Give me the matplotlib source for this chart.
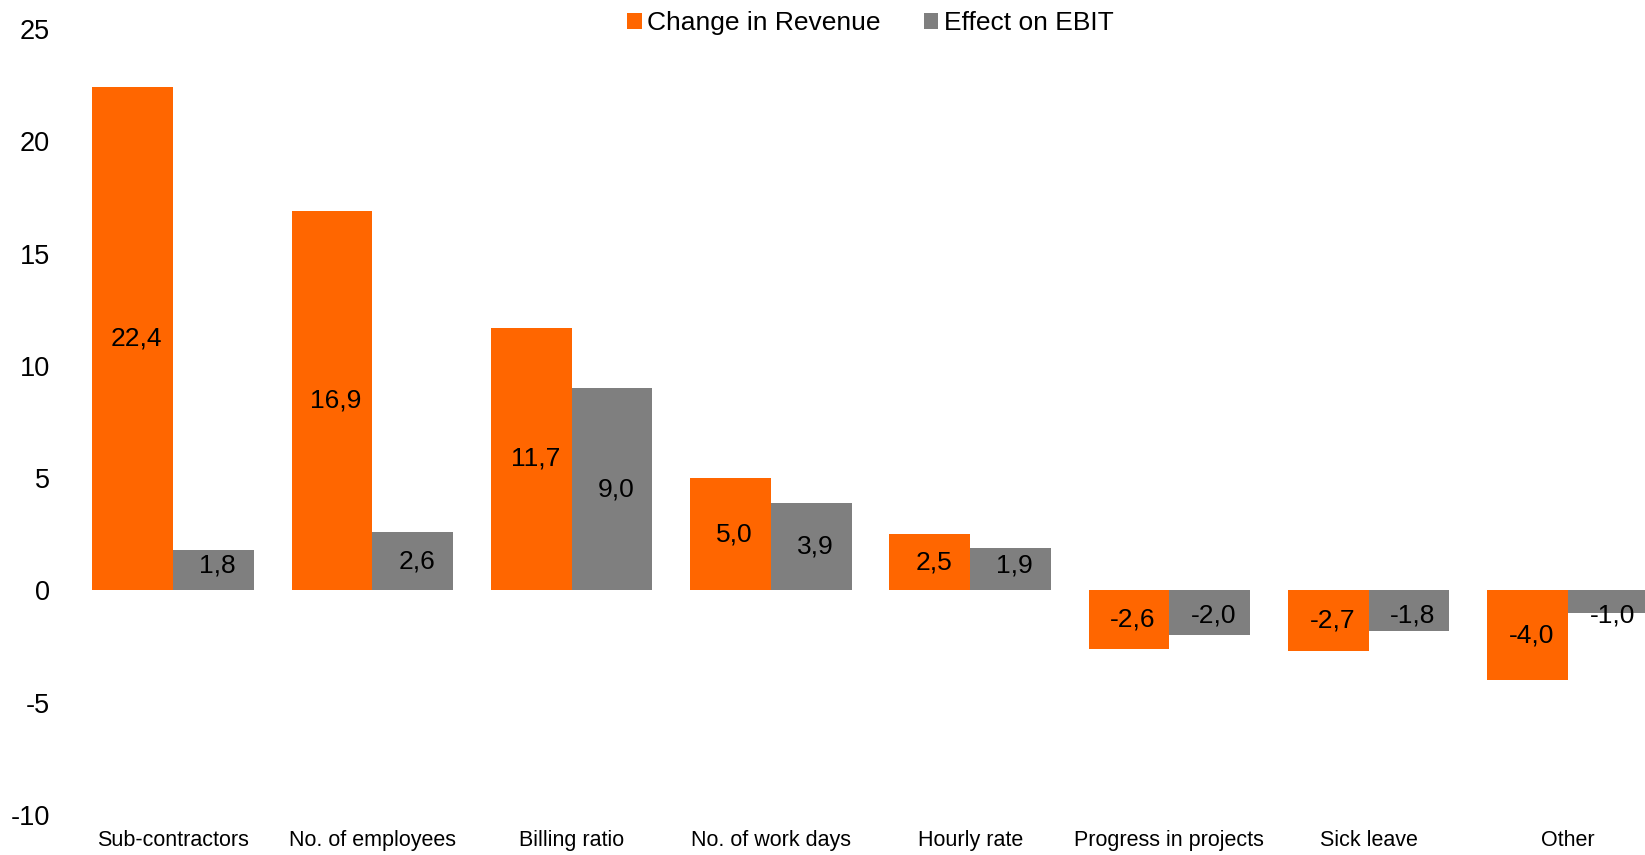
import numpy as np
from matplotlib import pyplot as plt

plt.rcParams["font.family"] = ["Liberation Sans", "DejaVu Sans"]

categories = ["Sub-contractors", "No. of employees", "Billing ratio", "No. of work days",
              "Hourly rate", "Progress in projects", "Sick leave", "Other"]
revenue = [22.4, 16.9, 11.7, 5.0, 2.5, -2.6, -2.7, -4.0]
ebit = [1.8, 2.6, 9.0, 3.9, 1.9, -2.0, -1.8, -1.0]
y_ticks = [-10, -5, 0, 5, 10, 15, 20, 25]

orange = "#FF6600"
grey = "#7F7F7F"


def fmt(v):
    return f"{v:.1f}".replace(".", ",")


def label_y(v):
    # centred in the bar, but kept clear of the zero line for short bars
    return np.sign(v) * max(abs(v) / 2, 1.12)


fig = plt.figure(figsize=(16.45, 8.55), dpi=100)
ax = fig.add_axes([0.0447, 0.047, 0.969, 0.919])

x = np.arange(len(categories))
width = 0.405

ax.bar(x - width / 2, revenue, width, color=orange, label="Change in Revenue")
ax.bar(x + width / 2, ebit, width, color=grey, label="Effect on EBIT")

for i in range(len(categories)):
    ax.text(x[i] - width / 2 + 0.02, label_y(revenue[i]), fmt(revenue[i]),
            ha="center", va="center", fontsize=19)
    ax.text(x[i] + width / 2 + 0.02, label_y(ebit[i]), fmt(ebit[i]),
            ha="center", va="center", fontsize=19)

ax.set_xlim(-0.5, len(categories) - 0.5)
ax.set_ylim(-10, 25)
ax.set_yticks(y_ticks)
ax.set_yticklabels([str(t) for t in y_ticks], fontsize=19.5)
ax.set_xticks(x)
ax.set_xticklabels(categories, fontsize=15.5)
ax.tick_params(axis="y", length=0, pad=17)
ax.tick_params(axis="x", length=0, pad=11)
for s in ax.spines.values():
    s.set_visible(False)

fig.legend(loc="upper center", bbox_to_anchor=(0.529, 1.015), ncol=2, frameon=False,
           fontsize=19, handlelength=0.55, handleheight=0.55, handletextpad=0.2,
           columnspacing=1.65)

fig.savefig("out.png", dpi=100)
